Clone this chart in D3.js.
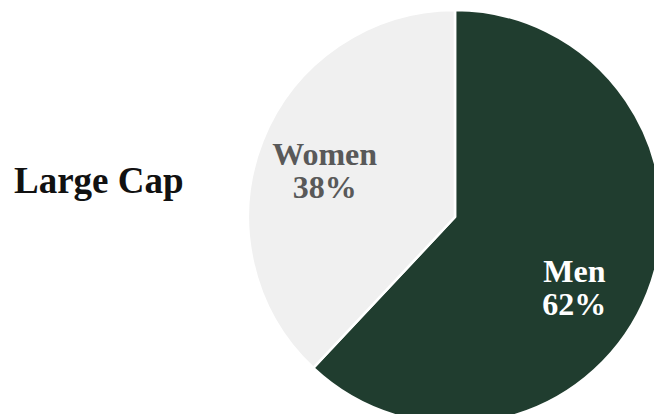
<!DOCTYPE html>
<html>
<head>
<meta charset="utf-8">
<script src="https://cdn.jsdelivr.net/npm/d3@7"></script>
<style>
  html, body { margin: 0; padding: 0; background: #ffffff; }
  svg { display: block; }
  text { font-family: "Liberation Serif", "Times New Roman", serif; font-weight: bold; }
</style>
</head>
<body>
<svg id="chart" width="654" height="414"></svg>
<script>
// Gender split of large-cap holdings
const categories = ["Men", "Women"];
const shares = [62, 38];
const sliceColors = ["#203d2f", "#f0f0f0"];
const labelColors = ["#ffffff", "#595959"];
const title = "Large Cap";

const svg = d3.select("#chart");
const cx = 455, cy = 217, radius = 207;

const pie = d3.pie().sort(null).value(d => d.value);
const arcs = pie(categories.map((c, i) => ({ name: c, value: shares[i], i })));

const arc = d3.arc().innerRadius(0).outerRadius(radius);

const g = svg.append("g").attr("transform", `translate(${cx},${cy})`);

g.selectAll("path.slice")
  .data(arcs)
  .join("path")
  .attr("class", "slice")
  .attr("d", arc)
  .attr("fill", d => sliceColors[d.data.i])
  .attr("stroke", "#ffffff")
  .attr("stroke-width", 2.5)
  .attr("stroke-linejoin", "round");

// Slice labels sit near two-thirds of the radius, nudged slightly for legibility
const labelArc = d3.arc().innerRadius(radius * 0.667).outerRadius(radius * 0.667);
const labelNudge = [[-9, 19], [-2, 4]];
const labels = g.selectAll("text.label")
  .data(arcs)
  .join("text")
  .attr("class", "label")
  .attr("text-anchor", "middle")
  .attr("font-size", 32)
  .attr("fill", d => labelColors[d.data.i])
  .attr("transform", d => {
    const [x, y] = labelArc.centroid(d);
    const [nx, ny] = labelNudge[d.data.i];
    return `translate(${x + nx},${y + ny})`;
  });
labels.append("tspan").attr("x", 0).attr("y", -5).text(d => d.data.name);
labels.append("tspan").attr("x", 0).attr("y", 28).text(d => d.data.value + "%");

svg.append("text")
  .attr("x", 14)
  .attr("y", 193)
  .attr("font-size", 37)
  .attr("fill", "#111111")
  .text(title);
</script>
</body>
</html>
